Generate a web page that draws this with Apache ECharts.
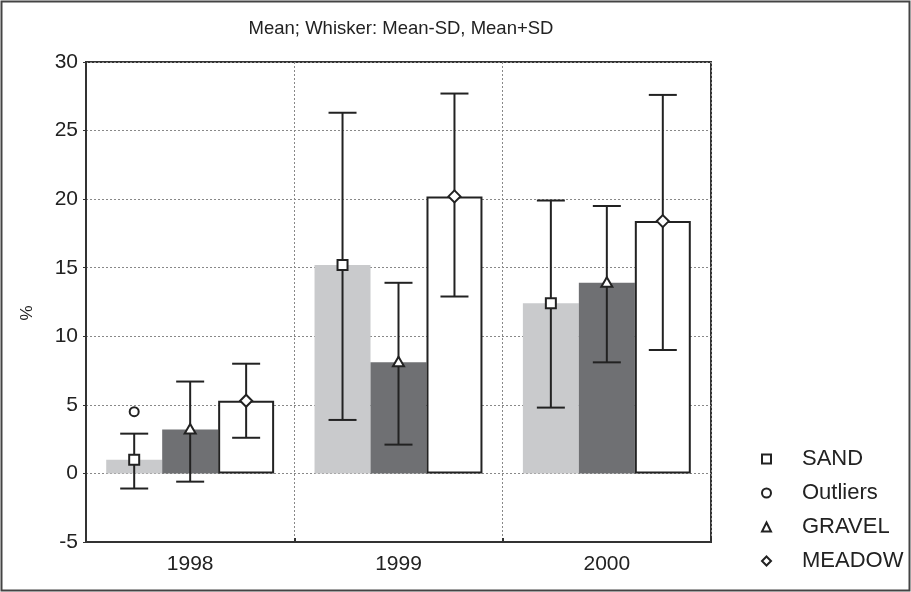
<!DOCTYPE html>
<html>
<head>
<meta charset="utf-8">
<script src="https://cdn.jsdelivr.net/npm/echarts@6/dist/echarts.min.js"></script>
<style>
  html, body { margin: 0; padding: 0; background: #fff; }
  #chart { width: 911px; height: 592px; }
</style>
</head>
<body>
<div id="chart"></div>
<script>
// Categories
const years = ['1998', '1999', '2000'];

// Means and whisker ends (Mean-SD, Mean+SD) per habitat
const sandMean   = [1.0, 15.2, 12.4];
const sandLow    = [-1.1, 3.9, 4.8];
const sandHigh   = [2.9, 26.3, 19.9];

const gravelMean = [3.2, 8.1, 13.9];
const gravelLow  = [-0.6, 2.1, 8.1];
const gravelHigh = [6.7, 13.9, 19.5];

const meadowMean = [5.3, 20.2, 18.4];
const meadowLow  = [2.6, 12.9, 9.0];
const meadowHigh = [8.0, 27.7, 27.6];

// Outlier points (year index, value) belonging to SAND
const outlierYear  = [0];
const outlierValue = [4.5];

// Y axis ticks
const yTicks = [-5, 0, 5, 10, 15, 20, 25, 30];

const CAT_GAP = 0.194;   // share of the band left empty between groups
const INK = '#222';
const FONT = 'Liberation Sans, Arial, sans-serif';

function rows(mean, low, high) {
  return mean.map((m, i) => [i, m, low[i], high[i]]);
}

function barX(api, cat, slot) {
  const band = api.size([1, 0])[0];
  const bw = band * (1 - CAT_GAP) / 3;
  return api.coord([cat, 0])[0] + (slot - 1) * bw;
}

function markerShape(kind, x, y) {
  const st = { fill: '#fff', stroke: INK, lineWidth: 2 };
  if (kind === 'square') {
    return { type: 'rect', shape: { x: x - 5, y: y - 5, width: 10, height: 10 }, style: st };
  }
  if (kind === 'circle') {
    return { type: 'circle', shape: { cx: x, cy: y, r: 4.5 }, style: st };
  }
  if (kind === 'triangle') {
    return { type: 'polygon', shape: { points: [[x, y - 5.5], [x + 5.5, y + 4], [x - 5.5, y + 4]] }, style: st };
  }
  return { type: 'polygon', shape: { points: [[x, y - 6], [x + 6, y], [x, y + 6], [x - 6, y]] }, style: st };
}

function whiskerRenderer(slot, kind) {
  return function (params, api) {
    const cat = api.value(0);
    const x = barX(api, cat, slot);
    const ym = api.coord([cat, api.value(1)])[1];
    const yl = api.coord([cat, api.value(2)])[1];
    const yh = api.coord([cat, api.value(3)])[1];
    const cap = 14;
    const ls = { stroke: INK, lineWidth: 2 };
    return {
      type: 'group',
      children: [
        { type: 'line', shape: { x1: x, y1: yh, x2: x, y2: yl }, style: ls },
        { type: 'line', shape: { x1: x - cap, y1: yh, x2: x + cap, y2: yh }, style: ls },
        { type: 'line', shape: { x1: x - cap, y1: yl, x2: x + cap, y2: yl }, style: ls },
        markerShape(kind, x, ym)
      ]
    };
  };
}

function outlierRenderer(slot) {
  return function (params, api) {
    const cat = api.value(0);
    const x = barX(api, cat, slot);
    const y = api.coord([cat, api.value(1)])[1];
    return markerShape('circle', x, y);
  };
}

const legendItem = { color: '#fff', borderColor: INK, borderWidth: 2 };

const chart = echarts.init(document.getElementById('chart'), null, { renderer: 'canvas' });
chart.setOption({
  animation: false,
  backgroundColor: '#fff',
  title: {
    text: 'Mean; Whisker: Mean-SD, Mean+SD',
    left: 396, top: 14, textAlign: 'center',
    textStyle: { fontFamily: FONT, fontSize: 18.5, fontWeight: 'normal', color: INK }
  },
  graphic: [{
    type: 'rect', silent: true,
    shape: { x: 1.5, y: 1.5, width: 908, height: 589 },
    style: { fill: 'none', stroke: '#444', lineWidth: 2 }
  }],
  legend: {
    orient: 'vertical',
    left: 756, top: 443,
    itemWidth: 9, itemHeight: 9, itemGap: 12,
    selectedMode: false,
    textStyle: { fontFamily: FONT, fontSize: 22, color: INK, padding: [0, 0, 0, 26] },
    data: [
      { name: 'SAND', icon: 'rect', itemStyle: legendItem },
      { name: 'Outliers', icon: 'circle', itemStyle: legendItem },
      { name: 'GRAVEL', icon: 'triangle', itemStyle: legendItem },
      { name: 'MEADOW', icon: 'diamond', itemStyle: legendItem }
    ]
  },
  grid: {
    left: 86, right: 200, top: 62, bottom: 50,
    show: true, borderColor: '#333', borderWidth: 2, backgroundColor: 'transparent'
  },
  xAxis: {
    type: 'category',
    data: years,
    boundaryGap: true,
    axisLine: { show: true, onZero: false, lineStyle: { color: '#333', width: 2 } },
    axisTick: { show: true, inside: true, length: 4, lineStyle: { color: '#333', width: 2 } },
    axisLabel: { fontFamily: FONT, fontSize: 21, color: INK, margin: 12 },
    splitLine: { show: true, lineStyle: { color: '#888', type: [2, 2], width: 1 } }
  },
  yAxis: {
    type: 'value',
    min: yTicks[0], max: yTicks[yTicks.length - 1], interval: 5,
    name: '%', nameLocation: 'middle', nameGap: 50, nameRotate: 90,
    nameTextStyle: { fontFamily: FONT, fontSize: 17, color: INK, padding: [0, 22, 0, 0] },
    axisLine: { show: true, lineStyle: { color: '#333', width: 2 } },
    axisTick: { show: true, length: 3, lineStyle: { color: '#333', width: 1 } },
    axisLabel: { fontFamily: FONT, fontSize: 21, color: INK, margin: 8 },
    splitLine: { show: true, lineStyle: { color: '#888', type: [2, 2], width: 1 } }
  },
  series: [
    {
      name: 'SAND bars', type: 'bar', data: sandMean,
      barGap: '0%', barCategoryGap: (CAT_GAP * 100) + '%',
      itemStyle: { color: '#c9cacc' }, z: 2
    },
    {
      name: 'GRAVEL bars', type: 'bar', data: gravelMean,
      itemStyle: { color: '#6f7073' }, z: 2
    },
    {
      name: 'MEADOW bars', type: 'bar', data: meadowMean,
      itemStyle: { color: '#fff', borderColor: INK, borderWidth: 2 }, z: 2
    },
    {
      name: 'SAND', type: 'custom', z: 5,
      renderItem: whiskerRenderer(0, 'square'),
      data: rows(sandMean, sandLow, sandHigh),
      encode: { x: 0, y: [1, 2, 3] }
    },
    {
      name: 'Outliers', type: 'custom', z: 5,
      renderItem: outlierRenderer(0),
      data: outlierYear.map((c, i) => [c, outlierValue[i]]),
      encode: { x: 0, y: 1 }
    },
    {
      name: 'GRAVEL', type: 'custom', z: 5,
      renderItem: whiskerRenderer(1, 'triangle'),
      data: rows(gravelMean, gravelLow, gravelHigh),
      encode: { x: 0, y: [1, 2, 3] }
    },
    {
      name: 'MEADOW', type: 'custom', z: 5,
      renderItem: whiskerRenderer(2, 'diamond'),
      data: rows(meadowMean, meadowLow, meadowHigh),
      encode: { x: 0, y: [1, 2, 3] }
    }
  ]
});
</script>
</body>
</html>
